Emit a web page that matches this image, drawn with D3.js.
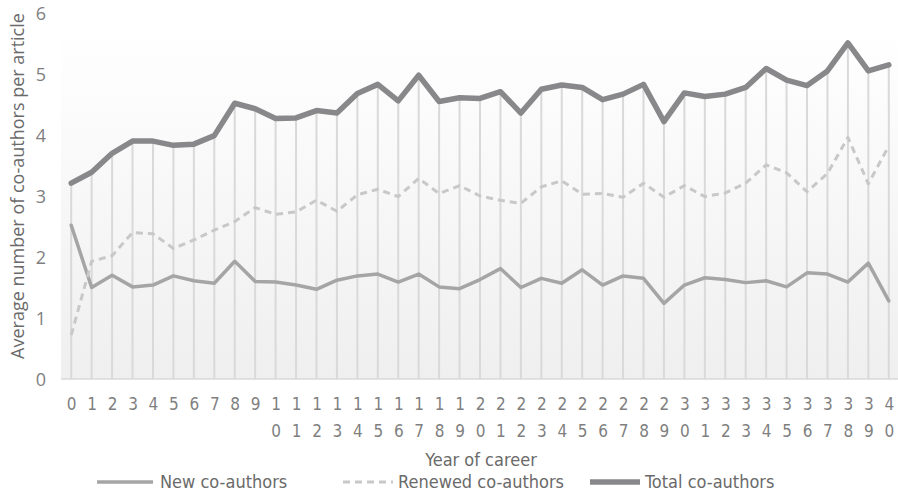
<!DOCTYPE html>
<html><head><meta charset="utf-8">
<script src="https://cdn.jsdelivr.net/npm/d3@7/dist/d3.min.js"></script>
<style>
html,body{margin:0;padding:0;background:#fff;}
svg{display:block;}
.narrow{font-family:"Liberation Sans Narrow","DejaVu Sans Condensed","Arial Narrow",sans-serif;}
</style></head>
<body>
<svg id="chart" width="898" height="494"></svg>
<script>
const years = ["0","1","2","3","4","5","6","7","8","9","10","11","12","13","14","15","16","17","18","19","20",
  "21","22","23","24","25","26","27","28","29","30","31","32","33","34","35","36","37","38","39","40"];
const newCo = [2.52,1.50,1.70,1.51,1.54,1.69,1.61,1.57,1.93,1.60,1.59,1.54,1.47,1.62,1.69,1.72,1.59,1.72,1.51,1.48,1.63,
  1.81,1.50,1.65,1.57,1.79,1.54,1.69,1.65,1.24,1.54,1.66,1.63,1.58,1.61,1.51,1.74,1.72,1.59,1.90,1.28];
const renewedCo = [0.72,1.93,2.02,2.40,2.38,2.14,2.28,2.44,2.58,2.81,2.70,2.74,2.93,2.75,3.02,3.11,2.99,3.29,3.04,3.17,3.00,
  2.93,2.88,3.15,3.25,3.03,3.04,2.98,3.21,2.98,3.17,2.99,3.05,3.21,3.51,3.38,3.07,3.37,3.96,3.20,3.82];
const totalCo = [3.21,3.39,3.70,3.90,3.90,3.83,3.85,3.99,4.52,4.43,4.27,4.28,4.40,4.36,4.68,4.83,4.56,4.98,4.55,4.61,4.60,
  4.71,4.36,4.75,4.82,4.78,4.58,4.67,4.83,4.22,4.69,4.63,4.67,4.78,5.09,4.90,4.81,5.05,5.51,5.05,5.15];
const yTicks = [0,1,2,3,4,5,6];
const seriesNames = ["New co-authors","Renewed co-authors","Total co-authors"];

const svg = d3.select("#chart");
const x = d3.scalePoint().domain(years).range([61, 899]).padding(0.5);
const y = d3.scaleLinear().domain([0, 6]).range([379, 13]);
const xLeft = x(years[0]) - x.step()/2, xRight = x(years[years.length-1]) + x.step()/2;

const defs = svg.append("defs");
const grad = defs.append("linearGradient").attr("id","bg").attr("x1",0).attr("y1",0).attr("x2",0).attr("y2",1);
grad.append("stop").attr("offset","0%").attr("stop-color","#ffffff");
grad.append("stop").attr("offset","100%").attr("stop-color","#efefef");

svg.append("rect").attr("x", xLeft).attr("y", 28).attr("width", xRight - xLeft).attr("height", y(0) - 28)
  .attr("fill","url(#bg)");

// drop lines
svg.append("g").selectAll("line").data(years).join("line")
  .attr("x1", d => x(d)).attr("x2", d => x(d))
  .attr("y1", (d,i) => y(totalCo[i])).attr("y2", y(0))
  .attr("stroke","#d9d9d9").attr("stroke-width",2);

// x axis line
svg.append("line").attr("x1", xLeft).attr("x2", xRight).attr("y1", y(0)).attr("y2", y(0))
  .attr("stroke","#d9d9d9").attr("stroke-width",1.5);

// y axis
const yAxis = svg.append("g").attr("transform", `translate(${xLeft},0)`)
  .call(d3.axisLeft(y).tickValues(yTicks).tickFormat(d3.format("d")).tickSize(0).tickPadding(15));
yAxis.select(".domain").remove();
yAxis.selectAll("text").attr("font-family","'Open Sans',sans-serif").attr("font-size",18).attr("fill","#7f7f7f")
  .attr("dy","0.36em");

// x axis
const xAxis = svg.append("g").attr("transform", `translate(0,${y(0)})`)
  .call(d3.axisBottom(x).tickSize(0).tickPadding(0));
xAxis.select(".domain").remove();
xAxis.selectAll("text").attr("class","narrow").attr("font-size",17).attr("fill","#7f7f7f")
  .attr("font-family",null).attr("dy",null)
  .each(function(d){
    const t = d3.select(this);
    t.text(null);
    d.split("").forEach((c,k) => {
      t.append("tspan").attr("x",0).attr("y", 31 + k*27).text(c);
    });
  });

// lines
const line = d3.line().x((d,i) => x(years[i])).y(d => y(d));
svg.append("path").datum(newCo).attr("d", line).attr("fill","none")
  .attr("stroke","#a5a5a5").attr("stroke-width",3.5).attr("stroke-linejoin","round").attr("stroke-linecap","round");
svg.append("path").datum(renewedCo).attr("d", line).attr("fill","none")
  .attr("stroke","#c8c8c8").attr("stroke-width",3).attr("stroke-dasharray","7,5").attr("stroke-linejoin","round");
svg.append("path").datum(totalCo).attr("d", line).attr("fill","none")
  .attr("stroke","#88888a").attr("stroke-width",5.5).attr("stroke-linejoin","round").attr("stroke-linecap","round");

// axis titles
svg.append("text").attr("class","narrow").attr("x", 481).attr("y", 466).attr("text-anchor","middle")
  .attr("font-size",18).attr("fill","#6a6a6a").text("Year of career");
svg.append("text").attr("transform","translate(24,186) rotate(-90)").attr("text-anchor","middle")
  .attr("font-family","'Open Sans',sans-serif").attr("font-size",18).attr("fill","#6a6a6a")
  .text("Average number of co-authors per article");

// legend
const legend = [
  {name: seriesNames[0], x0: 97, x1: 153, tx: 160, stroke:"#a5a5a5", w:3.5, dash:null},
  {name: seriesNames[1], x0: 343, x1: 393, tx: 398, stroke:"#c8c8c8", w:3, dash:"7,5"},
  {name: seriesNames[2], x0: 590, x1: 640, tx: 645, stroke:"#88888a", w:5.5, dash:null}
];
const lg = svg.append("g");
legend.forEach(l => {
  lg.append("line").attr("x1", l.x0).attr("x2", l.x1).attr("y1", 482).attr("y2", 482)
    .attr("stroke", l.stroke).attr("stroke-width", l.w).attr("stroke-dasharray", l.dash);
  lg.append("text").attr("class","narrow").attr("x", l.tx).attr("y", 488).attr("font-size",18)
    .attr("fill","#6a6a6a").text(l.name);
});
</script>
</body></html>
